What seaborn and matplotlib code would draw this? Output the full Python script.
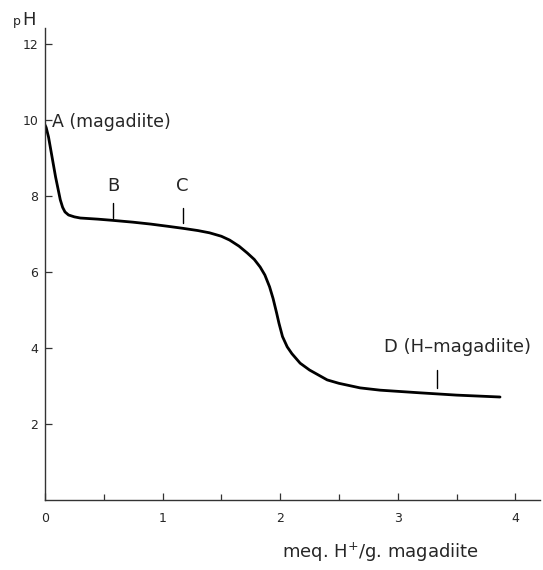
import matplotlib
matplotlib.use("Agg")
import matplotlib.pyplot as plt
import pandas as pd
import seaborn as sns

# titration curve
meq = [0.0, 0.01, 0.03, 0.05, 0.07, 0.09, 0.11, 0.13, 0.15, 0.17, 0.2, 0.25, 0.3, 0.45,
       0.57, 0.75, 0.9, 1.05, 1.17, 1.3, 1.4, 1.5, 1.57, 1.65, 1.72, 1.78, 1.83, 1.87,
       1.91, 1.94, 1.97, 1.99, 2.02, 2.06, 2.1, 2.17, 2.25, 2.4, 2.5, 2.68, 2.85, 3.19,
       3.5, 3.87]
ph = [9.87, 9.8, 9.55, 9.2, 8.85, 8.5, 8.2, 7.9, 7.7, 7.58, 7.5, 7.45, 7.42, 7.39,
      7.36, 7.31, 7.26, 7.2, 7.15, 7.09, 7.03, 6.94, 6.84, 6.68, 6.5, 6.33, 6.13, 5.92,
      5.61, 5.3, 4.92, 4.65, 4.3, 4.03, 3.85, 3.6, 3.42, 3.16, 3.07, 2.95, 2.89, 2.82,
      2.76, 2.71]

x_ticks = [0, 1, 2, 3, 4]
x_minor = [0.5, 1.5, 2.5, 3.5]
y_ticks = [2, 4, 6, 8, 10, 12]

marker_labels = ["B", "C"]
marker_x = [0.58, 1.17]
marker_lo = [7.42, 7.29]
marker_hi = [7.82, 7.68]

sns.set_style("ticks")
plt.rcParams["font.family"] = ["DejaVu Sans"]

df = pd.DataFrame({"meq": meq, "pH": ph})

fig = plt.figure(figsize=(5.43, 5.70), dpi=100)
ax = fig.add_axes([45 / 543, 70 / 570, 495 / 543, 472 / 570])
sns.lineplot(data=df, x="meq", y="pH", color="black", linewidth=2.0, ax=ax)

ax.set_xlim(0, 4.21)
ax.set_ylim(0, 12.42)
ax.set_xticks(x_ticks)
ax.set_xticks(x_minor, minor=True)
ax.set_yticks(y_ticks)
ax.tick_params(axis="both", direction="in", length=5, width=0.9, labelsize=9, color="#333333")
ax.tick_params(axis="x", which="minor", direction="in", length=4, width=0.9, color="#333333")
ax.tick_params(axis="x", pad=9)
ax.tick_params(axis="y", pad=5)
sns.despine(ax=ax)
for side in ["left", "bottom"]:
    ax.spines[side].set_linewidth(1.0)
    ax.spines[side].set_color("#333333")
ax.set_xlabel("")
ax.set_ylabel("")

for lab, mx, lo, hi in zip(marker_labels, marker_x, marker_lo, marker_hi):
    ax.plot([mx, mx], [lo, hi], color="black", linewidth=1.0)
    ax.text(mx, 8.25, lab, ha="center", va="center", fontsize=13)

ax.plot([3.33, 3.33], [2.95, 3.42], color="black", linewidth=1.0)
ax.text(0.06, 9.95, "A (magadiite)", ha="left", va="center", fontsize=12.5)
ax.text(2.88, 4.03, "D (H\u2013magadiite)", ha="left", va="center", fontsize=13)

fig.text(13 / 543, 1 - 25 / 570, "p", ha="left", va="baseline", fontsize=9)
fig.text(22 / 543, 1 - 25 / 570, "H", ha="left", va="baseline", fontsize=13)
fig.text(380 / 543, 1 - 558 / 570, "meq. H$^{+}$/g. magadiite", ha="center",
         va="baseline", fontsize=13)

fig.savefig("out.png", dpi=100)
